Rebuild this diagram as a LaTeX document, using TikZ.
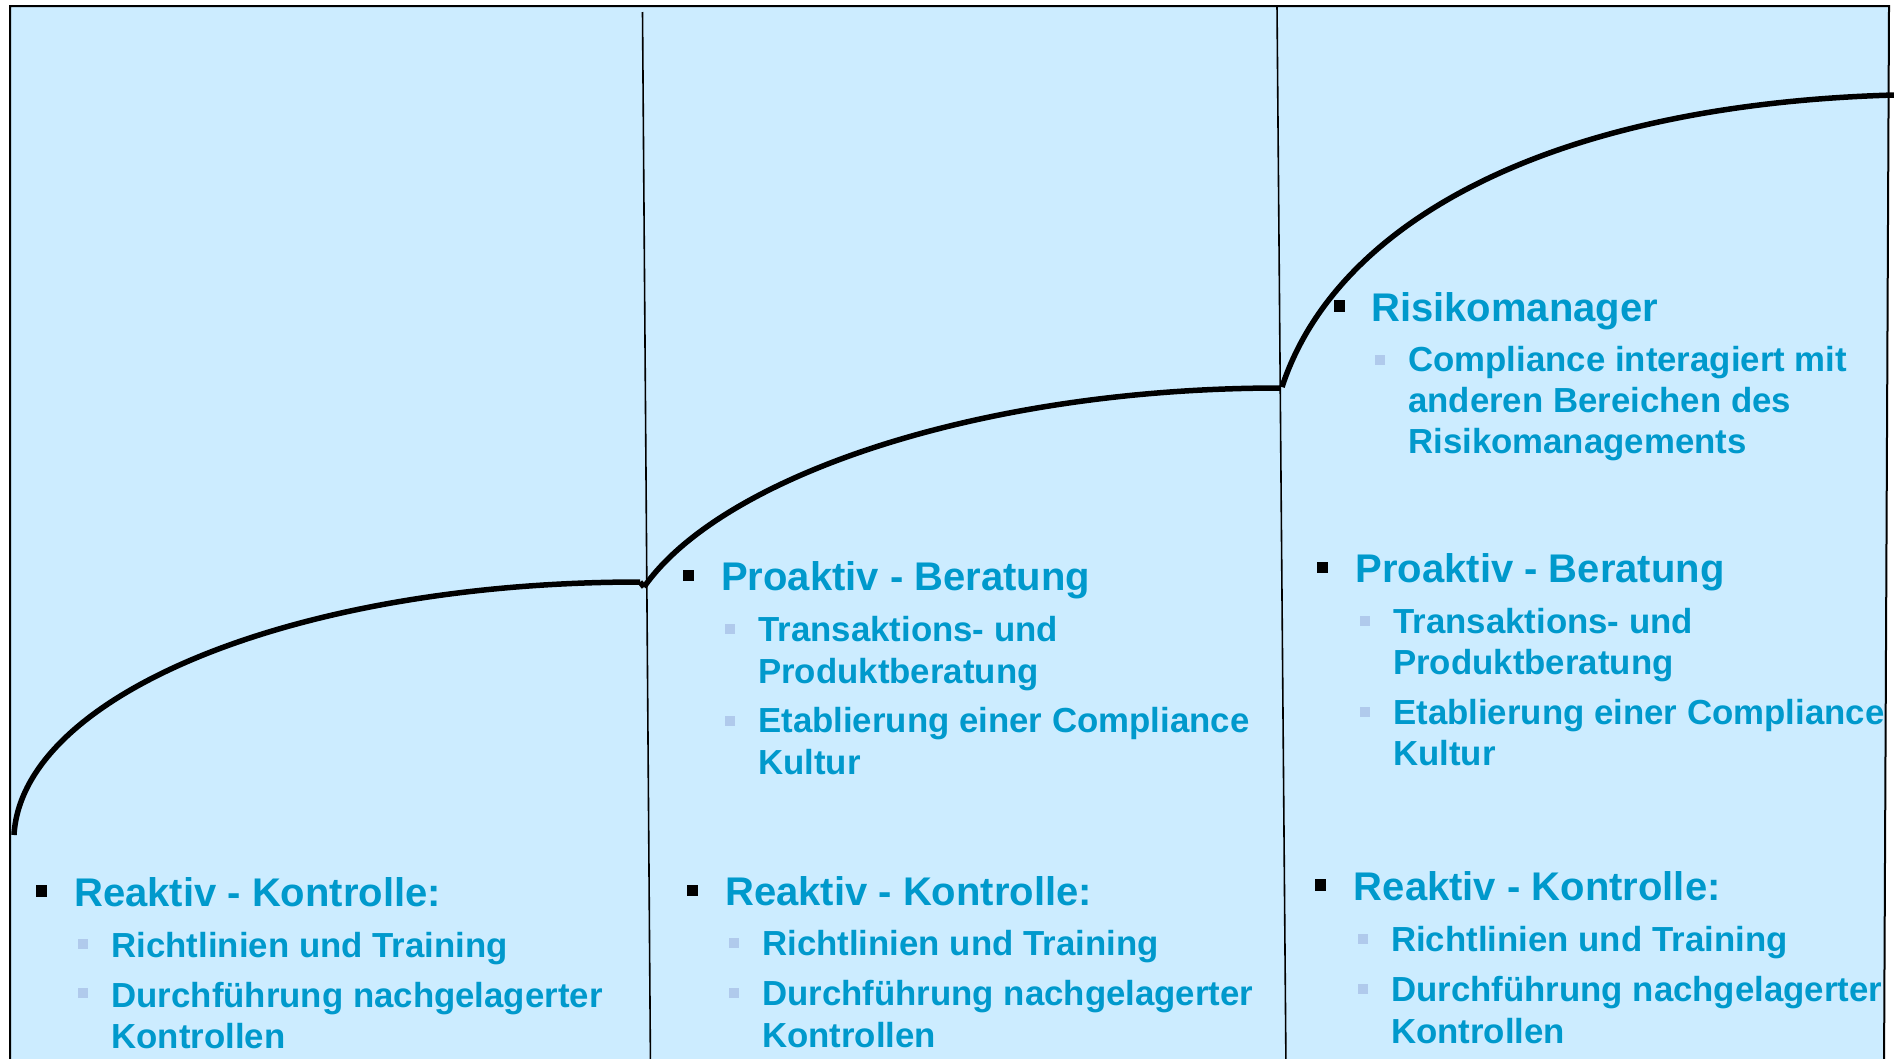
\documentclass[tikz,border=0pt]{standalone}
\usepackage{fontspec}
\setmainfont{Liberation Sans}
\definecolor{panel}{RGB}{204,236,255}
\definecolor{txt}{RGB}{0,153,204}
\definecolor{subsq}{RGB}{176,202,236}
\tikzset{
  head/.style={anchor=base west, inner sep=0pt, text=txt, font=\bfseries\fontsize{40}{47}\selectfont},
  sub/.style={anchor=base west, inner sep=0pt, text=txt, font=\bfseries\fontsize{34.8}{41.3}\selectfont},
  sqmain/.style={fill=black, inner sep=0pt, minimum width=11pt, minimum height=11.5pt},
  sqsub/.style={fill=subsq, inner sep=0pt, minimum size=10pt},
  stage/.style={line width=5.5pt},
  divider/.style={line width=1.6pt},
  frame/.style={line width=2pt},
}
\begin{document}
\begin{tikzpicture}[x=1pt,y=-1pt]
\useasboundingbox (0,0) rectangle (1894,1058);
\clip (0,0) rectangle (1894,1058);

% panel and frame
\fill[panel] (10,6) -- (1889,6) -- (1884,1070) -- (10,1070) -- cycle;
\draw[frame] (10,1070) -- (10,6) -- (1889,6) -- (1884,1070);

% column dividers
\draw[divider] (642.5,12) -- (650.5,1070);
\draw[divider] (1277,6) -- (1286,1070);

% growth curves
\coordinate (s1) at (14,835);
\coordinate (e1) at (640,582);
\coordinate (s2) at (644,587);
\coordinate (e2) at (1280,388);
\coordinate (s3) at (1282,387);
\coordinate (e3) at (1894,95);
\draw[stage] (s1) .. controls (22,695) and (295,582) .. (e1);
\draw[stage] (e1) -- (s2);
\draw[stage] (s2) .. controls (721.4,476.4) and (980,388) .. (e2);
\draw[stage] (s3) .. controls (1335,225) and (1544,105) .. (e3);

% column 1
\node[sqmain] (c1kb) at (41,891) {};
\node[head] (c1k) at (74,906) {Reaktiv - Kontrolle:};
\node[sqsub] (c1rb) at (82.5,943.5) {};
\node[sub] (c1r) at (111.3,957) {Richtlinien und Training};
\node[sqsub] (c1db) at (82.5,993) {};
\node[sub] (c1d) at (111.3,1007) {\vtop{\hbox{Durchführung nachgelagerter}\hbox{Kontrollen}}};

% column 2, upper block
\node[sqmain] (c2pb) at (688,575.5) {};
\node[head] (c2p) at (721,590) {Proaktiv - Beratung};
\node[sqsub] (c2tb) at (730,628.5) {};
\node[sub] (c2t) at (758,641.7) {\vtop{\hbox{Transaktions- und}\hbox{Produktberatung}}};
\node[sqsub] (c2eb) at (730,720.5) {};
\node[sub] (c2e) at (758,732.7) {\vtop{\hbox{Etablierung einer Compliance}\hbox{Kultur}}};

% column 2, lower block
\node[sqmain] (c2kb) at (692,890.5) {};
\node[head] (c2k) at (725,905) {Reaktiv - Kontrolle:};
\node[sqsub] (c2rb) at (734,942.7) {};
\node[sub] (c2r) at (762,955) {Richtlinien und Training};
\node[sqsub] (c2db) at (734,993) {};
\node[sub] (c2d) at (762,1005.7) {\vtop{\hbox{Durchführung nachgelagerter}\hbox{Kontrollen}}};

% column 3, upper block
\node[sqmain] (c3mb) at (1339,306) {};
\node[head] (c3m) at (1371,321) {Risikomanager};
\node[sqsub] (c3cb) at (1380,360) {};
\node[sub] (c3c) at (1408,371) {\vtop{\hbox{Compliance interagiert mit}\hbox{anderen Bereichen des}\hbox{Risikomanagements}}};

% column 3, middle block
\node[sqmain] (c3pb) at (1322,567.5) {};
\node[head] (c3p) at (1355.3,582.7) {Proaktiv - Beratung};
\node[sqsub] (c3tb) at (1364.5,621.3) {};
\node[sub] (c3t) at (1393,633.3) {\vtop{\hbox{Transaktions- und}\hbox{Produktberatung}}};
\node[sqsub] (c3eb) at (1364.5,712) {};
\node[sub] (c3e) at (1393,724.3) {\vtop{\hbox{Etablierung einer Compliance}\hbox{Kultur}}};

% column 3, lower block
\node[sqmain] (c3kb) at (1320,885) {};
\node[head] (c3k) at (1353.7,900) {Reaktiv - Kontrolle:};
\node[sqsub] (c3rb) at (1362.5,939) {};
\node[sub] (c3r) at (1390.9,951) {Richtlinien und Training};
\node[sqsub] (c3db) at (1362.5,989) {};
\node[sub] (c3d) at (1390.9,1001.7) {\vtop{\hbox{Durchführung nachgelagerter}\hbox{Kontrollen}}};
\end{tikzpicture}
\end{document}
